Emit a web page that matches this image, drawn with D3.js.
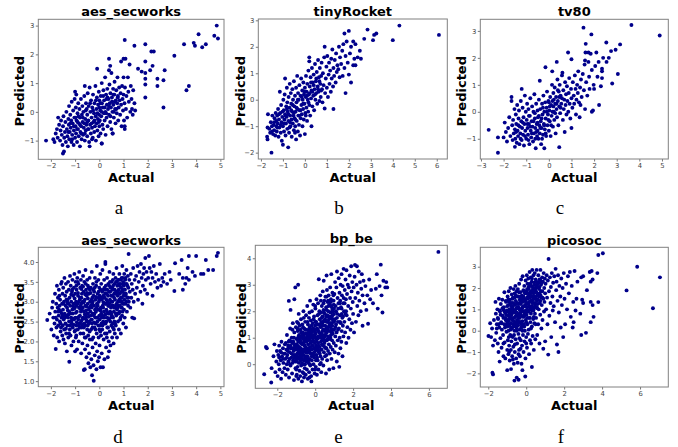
<!DOCTYPE html>
<html><head><meta charset="utf-8">
<script src="https://cdn.jsdelivr.net/npm/d3@7"></script>
<style>html,body{margin:0;padding:0;background:#fff}svg{display:block}</style>
</head><body>
<svg id="c" width="678" height="447"></svg>
<script>
// ---------------- DATA ----------------
const titles = ["aes_secworks","tinyRocket","tv80","aes_secworks","bp_be","picosoc"];
const letters = ["a","b","c","d","e","f"];

const aesTopXTicks = [-2,-1,0,1,2,3,4,5];
const aesTopYTicks = [-1,0,1,2,3];
const tinyXTicks = [-2,-1,0,1,2,3,4,5,6];
const tinyYTicks = [-2,-1,0,1,2,3];
const tv80XTicks = [-3,-2,-1,0,1,2,3,4,5];
const tv80YTicks = [-1,0,1,2,3];
const aesBotXTicks = [-2,-1,0,1,2,3,4,5];
const aesBotYTicks = [1.0,1.5,2.0,2.5,3.0,3.5,4.0];
const bpXTicks = [-2,0,2,4,6];
const bpYTicks = [0,1,2,3,4];
const picoXTicks = [-2,0,2,4,6];
const picoYTicks = [-2,-1,0,1,2,3];

const aesTopPts = [
[-2.2,-1.0],[-1.9,-0.95],[-1.85,-1.05],[-1.8,-0.75],[-1.75,-0.6],[-1.7,-0.2],[-1.72,-0.9],[-1.66,-0.45],[-1.62,-1.0],[-1.6,-0.65],[-1.58,-0.3],[-1.55,-0.8],[-1.52,-1.15],[-1.5,-1.45],[-1.46,-1.38],[-1.5,-0.5],[-1.48,-0.15],[-1.45,-0.9],[-1.42,-0.7],[-1.4,-0.35],[-1.38,-1.05],[-1.36,0.0],
[-1.34,-0.6],[-1.32,-0.85],[-1.3,-1.2],[-1.28,-0.25],[-1.26,-0.45],[-1.25,0.2],[-1.24,-0.95],[-1.22,-0.7],[-1.2,-0.1],[-1.18,-0.55],[-1.16,-0.3],[-1.15,-1.05],[-1.14,0.35],[-1.12,-0.8],[-1.1,-0.4],[-1.08,0.05],[-1.06,-1.15],[-1.05,-0.65],[-1.03,-0.2],[-1.02,0.45],[-1.0,0.7],[-1.0,-0.9],[-0.98,-0.5],[-0.97,0.15],
[-0.96,-0.75],[-0.95,0.6],[-0.94,-0.3],[-0.92,-1.05],[-0.9,-0.05],[-0.88,-0.6],[-0.87,0.3],[-0.85,-0.85],[-0.84,-0.4],[-0.82,0.1],[-0.8,-1.2],[-0.8,-0.2],[-0.78,-0.7],[-0.76,0.45],[-0.75,-0.5],[-0.73,-0.95],[-0.72,-0.1],[-0.7,0.2],[-0.69,-0.35],[-0.67,-0.8],[-0.66,0.0],[-0.64,-0.55],[-0.62,0.55],[-0.6,0.9],[-0.6,-1.0],[-0.58,-0.25],[-0.56,-0.65],[-0.55,0.3],[-0.53,-0.45],[-0.52,0.1],[-0.5,-0.85],[-0.5,-0.1],
[-0.48,0.65],[-0.47,-0.6],[-0.45,-0.3],[-0.44,0.2],[-0.42,-1.05],[-0.4,-1.2],[-0.4,0.85],[-0.38,-0.45],[-0.37,0.0],[-0.35,-0.75],[-0.34,0.4],[-0.32,-0.2],[-0.3,-0.55],[-0.29,0.15],[-0.27,-0.9],[-0.26,0.6],[-0.24,-0.35],[-0.22,-0.05],[-0.21,-0.7],[-0.2,0.3],[-0.18,-0.5],[-0.16,0.9],[-0.15,-0.15],[-0.14,-1.0],[-0.12,0.1],[-0.11,-0.4],[-0.1,0.5],[-0.09,1.5],[-0.08,-0.65],[-0.06,-0.25],[-0.05,0.25],[-0.03,-0.85],[-0.02,0.7],[-0.01,-0.1],[0.0,0.4],[0.0,-0.5],
[0.02,-0.3],[0.04,0.05],[0.05,-0.75],[0.06,0.55],[0.08,-0.15],[0.1,1.0],[0.1,-1.1],[0.11,0.3],[0.13,-0.45],[0.14,0.15],[0.16,-0.6],[0.17,0.75],[0.19,-0.05],[0.2,0.4],[0.22,-0.3],[0.24,1.2],[0.25,0.0],[0.26,-0.8],[0.28,0.6],[0.3,-0.2],[0.31,0.25],[0.33,0.8],[0.34,-0.5],[0.36,0.1],[0.38,0.45],[0.4,1.45],[0.4,-0.1],[0.42,0.95],[0.43,0.3],[0.45,-0.35],[0.46,0.65],[0.48,0.15],[0.5,1.35],[0.5,-0.6],
[0.52,0.5],[0.54,0.0],[0.55,-0.75],[0.57,0.8],[0.58,0.25],[0.6,-0.2],[0.62,0.6],[0.63,1.05],[0.65,0.1],[0.67,-0.4],[0.68,0.4],[0.7,0.75],[0.72,-0.05],[0.74,0.3],[0.75,1.2],[0.77,0.55],[0.78,-0.3],[0.8,0.15],[0.82,0.85],[0.84,0.4],[0.86,-0.1],[0.88,0.65],[0.9,1.75],[0.9,0.25],[0.92,-0.5],[0.94,0.9],[0.96,0.45],[0.98,0.05],[1.0,1.2],[1.0,0.6],
[1.02,-0.3],[1.04,0.3],[1.05,-0.6],[1.05,-0.5],[1.06,0.85],[1.08,1.85],[1.1,0.1],[1.12,0.55],[1.15,-0.2],[1.18,1.2],[1.2,0.7],[1.22,0.35],[1.25,1.65],[1.28,0.0],[1.3,0.9],[1.33,0.45],[1.35,0.1],[1.38,-0.1],[1.4,0.75],[1.45,2.3],[1.45,0.3],[1.48,0.05],
[1.6,1.5],[1.75,1.4],[1.9,1.35],[1.9,1.75],[1.9,2.35],[1.9,1.15],[1.9,0.95],[1.9,0.5],[2.1,1.45],[2.15,2.1],[2.25,2.1],[2.2,1.6],[2.4,1.15],[2.4,0.9],[2.65,1.1],[2.7,1.45],[2.65,0.15],[3.1,1.95],[3.5,2.35],[3.6,0.75],[3.7,0.9],[3.9,2.4],[3.95,2.3],[4.1,2.7],[4.25,2.25],[4.4,2.35],[4.75,2.65],[4.85,3.0],[4.9,2.55],[1.05,2.5],[1.0,1.85],[0.45,1.6],[0.4,1.85],[0.1,-1.1],[0.55,-0.75],
[-1.28,-0.7],[-1.2,-0.4],[-1.12,-0.95],[-1.05,-0.5],[-0.98,-0.2],[-0.92,-0.6],[-0.86,-0.15],[-0.8,-0.45],[-0.74,-0.75],[-0.68,-0.2],[-0.62,-0.4],[-0.56,0.05],[-0.5,-0.35],[-0.44,-0.6],[-0.38,0.3],[-0.32,-0.4],[-0.26,0.05],[-0.2,-0.3],[-0.14,0.4],[-0.08,-0.05],[-0.02,-0.35],[0.04,0.3],[0.1,0.0],[0.16,0.55],[0.22,0.15],[0.28,-0.05],[0.34,0.5],[0.4,0.2],[0.46,-0.15],[0.52,0.35],[0.58,0.6],[0.64,0.35],[0.7,0.1],[0.76,0.5],[-0.9,-0.35],[-0.6,-0.75],[-0.3,-0.95],[0.0,0.15],[0.3,0.45],[0.6,0.0]
];

const tinyRocketPts = [
[-1.72,-1.4],[-1.7,-1.5],[-1.7,-1.05],[-1.68,-0.55],[-1.62,-1.1],[-1.58,-1.25],[-1.55,-0.85],[-1.52,-2.0],[-1.5,-1.2],[-1.48,-0.6],[-1.45,-1.3],[-1.42,-0.95],[-1.4,-1.15],[-1.38,-0.7],[-1.35,-1.35],[-1.33,-0.5],[-1.3,-1.0],[-1.3,-0.8],
[-1.28,-1.2],[-1.26,-0.6],[-1.24,-0.9],[-1.22,-0.35],[-1.2,-1.4],[-1.18,-0.75],[-1.16,-1.05],[-1.14,0.3],[-1.12,-0.5],[-1.1,-1.25],[-1.08,-0.2],[-1.06,-0.85],[-1.05,-1.55],[-1.03,-0.65],[-1.0,-1.7],[-1.0,-1.0],[-0.98,0.0],[-0.96,-0.4],[-0.95,-1.2],[-0.93,-0.75],[-0.92,0.2],[-0.9,0.8],[-0.9,-0.55],[-0.88,-1.35],[-0.86,-0.9],[-0.85,-0.25],[-0.83,-0.65],[-0.82,0.45],[-0.8,-1.1],[-0.8,-0.1],
[-0.78,-0.45],[-0.76,-1.8],[-0.75,-0.8],[-0.74,0.1],[-0.72,-1.25],[-0.7,-0.3],[-0.69,0.6],[-0.67,-0.6],[-0.66,-1.0],[-0.64,0.25],[-0.62,-0.15],[-0.61,-0.75],[-0.6,-1.4],[-0.58,-0.45],[-0.57,0.4],[-0.55,-0.9],[-0.54,0.0],[-0.52,-0.6],[-0.5,-1.15],[-0.5,0.7],[-0.48,-0.25],[-0.47,-0.7],[-0.45,0.15],[-0.44,-1.0],[-0.42,-0.45],[-0.4,-1.5],[-0.4,0.45],[-0.38,-0.1],[-0.37,-0.8],[-0.35,0.9],[-0.34,-0.35],[-0.32,-1.2],[-0.31,0.25],[-0.3,-0.6],
[-0.28,0.0],[-0.27,-0.95],[-0.25,0.55],[-0.24,-0.4],[-0.22,-1.35],[-0.2,0.15],[-0.19,-0.7],[-0.17,0.8],[-0.16,-0.2],[-0.14,-0.55],[-0.12,0.35],[-0.11,-1.0],[-0.1,0.0],[-0.08,-0.35],[-0.07,0.65],[-0.05,-0.75],[-0.04,0.2],[-0.02,-0.15],[0.0,-1.3],[0.0,0.45],[0.02,-0.5],[0.04,0.1],[0.05,0.9],[0.07,-0.3],[0.08,0.3],[0.1,-0.8],[0.11,0.6],[0.13,0.0],[0.15,-0.45],[0.16,1.1],[0.18,0.2],[0.2,1.6],[0.2,1.45],[0.2,-0.2],
[0.22,0.5],[0.24,-0.6],[0.26,0.85],[0.28,0.05],[0.3,-1.0],[0.3,0.35],[0.32,1.2],[0.34,-0.25],[0.36,0.65],[0.38,0.15],[0.4,0.95],[0.42,-0.4],[0.44,0.4],[0.46,1.35],[0.48,0.0],[0.5,0.7],[0.52,0.25],[0.54,1.05],[0.56,-0.15],[0.58,0.5],[0.6,1.5],[0.62,0.3],[0.64,0.85],[0.66,-0.05],[0.68,1.2],[0.7,0.6],[0.72,0.1],[0.74,0.9],[0.76,1.4],[0.78,0.4],
[0.8,-0.1],[0.82,1.0],[0.85,0.55],[0.88,1.6],[0.9,2.0],[0.9,-0.33],[0.92,0.25],[0.95,0.8],[0.98,1.25],[1.0,0.45],[1.02,1.65],[1.05,0.1],[1.08,0.95],[1.1,1.4],[1.12,0.6],[1.15,1.1],[1.18,0.3],[1.2,1.55],[1.22,0.8],[1.25,1.9],[1.28,0.5],[1.3,-0.35],[1.3,1.2],[1.33,0.9],[1.36,1.5],[1.4,0.65],[1.42,1.75],[1.45,1.05],[1.48,1.3],
[1.55,2.0],[1.52,1.15],[1.58,0.85],[1.6,1.6],[1.65,1.35],[1.7,1.85],[1.72,0.9],[1.75,2.1],[1.8,2.5],[1.8,1.2],[1.85,0.25],[1.85,1.65],[1.9,2.2],[1.95,1.4],[2.0,2.6],[2.0,0.95],[2.05,1.75],[2.1,0.65],[2.1,2.0],[2.2,2.2],[2.2,1.3],[2.25,1.55],[2.3,2.1],[2.3,1.3],[2.4,1.6],[2.5,1.85],[2.55,1.55],
[2.7,2.3],[2.85,2.65],[3.1,2.25],[3.15,2.45],[3.25,2.5],[4.0,2.25],[4.3,2.8],[6.1,2.45],
[-1.25,-1.05],[-1.18,-0.55],[-1.1,-0.95],[-1.02,-0.45],[-0.95,-0.9],[-0.88,-0.6],[-0.82,-0.35],[-0.75,-0.55],[-0.68,-0.85],[-0.62,-0.4],[-0.55,-0.2],[-0.5,-0.5],[-0.44,-0.75],[-0.38,-0.3],[-0.32,0.0],[-0.26,-0.6],[-0.2,-0.4],[-0.14,0.1],[-0.08,-0.15],[-0.02,0.3],[0.04,-0.6],[0.1,0.15],[0.16,-0.1],[0.22,0.25],[0.28,0.65],[0.34,0.3],[0.4,0.55],[0.46,0.2],[0.52,0.8],[0.6,0.4],[0.66,0.7],[0.74,0.35],[-0.7,-1.05],[-0.45,-1.25],[-1.4,-0.85],[-1.5,-1.0]
];

const tv80Pts = [
[-2.66,-0.67],[-2.25,-1.52],[-2.25,-0.95],[-2.0,-0.95],[-1.95,-0.4],[-1.9,-0.75],[-1.85,-1.1],[-1.8,-0.6],[-1.75,-0.2],[-1.7,-0.9],[-1.65,0.55],[-1.65,0.4],[-1.62,-0.5],[-1.6,-1.05],[-1.58,-0.3],[-1.55,-0.8],[-1.52,0.1],[-1.5,-1.3],[-1.5,-0.65],
[-1.48,-1.0],[-1.46,-0.1],[-1.44,-0.45],[-1.42,-1.15],[-1.4,0.25],[-1.38,-0.7],[-1.36,-0.9],[-1.34,-0.25],[-1.32,0.05],[-1.3,-1.2],[-1.28,-0.55],[-1.26,-0.8],[-1.24,0.4],[-1.22,-0.35],[-1.2,0.85],[-1.2,-1.05],[-1.18,-0.6],[-1.16,0.15],[-1.14,-0.85],[-1.12,-0.2],[-1.1,-1.25],[-1.08,-0.45],[-1.06,0.6],[-1.04,-0.7],[-1.02,0.0],
[-1.0,-1.0],[-0.98,-0.3],[-0.96,0.3],[-0.94,-0.6],[-0.92,-0.85],[-0.9,0.1],[-0.88,-0.45],[-0.86,-1.2],[-0.84,-0.15],[-0.82,0.5],[-0.8,-0.7],[-0.78,-0.95],[-0.76,-0.35],[-0.74,0.2],[-0.72,-0.55],[-0.7,-1.1],[-0.68,0.0],[-0.66,-0.8],[-0.64,0.65],[-0.62,-0.25],[-0.6,-0.6],[-0.58,-1.35],[-0.56,0.3],[-0.54,-0.45],[-0.52,-0.9],[-0.5,0.05],[-0.5,-0.7],
[-0.48,-0.2],[-0.46,-1.0],[-0.44,0.45],[-0.42,-0.5],[-0.4,1.15],[-0.4,-0.8],[-0.38,0.1],[-0.36,-0.35],[-0.34,-1.2],[-0.32,-0.6],[-0.3,0.3],[-0.28,-0.1],[-0.26,-0.85],[-0.24,0.6],[-0.22,-0.45],[-0.2,-1.35],[-0.2,0.0],[-0.18,-0.65],[-0.16,0.35],[-0.15,1.65],[-0.14,-0.25],[-0.12,-0.9],[-0.1,0.15],[-0.08,0.75],[-0.06,-0.5],[-0.04,-0.1],[-0.02,0.4],[0.0,-0.7],
[0.02,0.05],[0.04,-0.35],[0.06,0.55],[0.08,-0.9],[0.1,0.25],[0.12,-0.15],[0.14,1.0],[0.15,1.5],[0.16,0.4],[0.18,-0.55],[0.2,0.7],[0.22,0.0],[0.24,-0.3],[0.26,0.9],[0.28,0.3],[0.3,-0.8],[0.32,0.55],[0.34,0.1],[0.35,1.85],[0.36,-0.2],[0.38,1.2],[0.4,0.4],[0.42,-0.5],[0.44,0.75],[0.46,-1.31],[0.46,0.2],[0.48,1.0],[0.5,-0.05],[0.52,0.6],[0.55,0.3],[0.58,1.35],[0.6,1.45],
[0.62,-0.3],[0.64,0.8],[0.66,0.1],[0.68,0.45],[0.7,-0.75],[0.72,1.1],[0.74,0.25],[0.76,0.65],[0.78,-0.1],[0.8,0.95],[0.82,0.4],[0.85,2.2],[0.86,0.0],[0.88,0.7],[0.9,1.25],[0.92,0.3],[0.95,-0.25],[0.98,0.85],[1.0,1.95],[1.0,0.5],[1.0,-0.6],[1.04,0.15],[1.06,1.1],[1.1,0.6],[1.12,0.3],[1.15,1.35],[1.18,0.85],[1.2,-0.1],[1.22,0.45],[1.25,1.0],[1.28,0.7],
[1.3,1.5],[1.33,0.35],[1.36,-0.2],[1.38,0.9],[1.4,0.25],[1.42,1.2],[1.45,0.55],[1.5,1.4],[1.53,3.12],[1.55,0.8],[1.58,1.75],[1.6,0.1],[1.6,1.9],[1.62,2.2],[1.63,2.52],[1.65,1.1],[1.7,0.6],[1.75,2.2],[1.75,1.85],[1.78,1.3],[1.8,0.85],[1.85,2.15],[1.88,2.87],[1.9,0.0],[1.9,1.55],[1.95,0.05],[1.98,1.0],
[2.0,0.85],[2.05,1.7],[2.1,2.2],[2.15,1.3],[2.2,1.85],[2.22,0.25],[2.3,0.95],[2.35,1.6],[2.35,1.5],[2.35,1.25],[2.4,2.0],[2.54,2.57],[2.55,1.85],[2.65,2.0],[2.75,2.25],[2.8,1.05],[2.95,2.3],[3.05,1.4],[3.15,2.5],[3.65,3.22],[4.9,2.83],
[-1.45,-0.75],[-1.35,-0.5],[-1.25,-1.0],[-1.15,-0.4],[-1.05,-0.9],[-0.95,-0.45],[-0.88,-0.15],[-0.82,-0.55],[-0.75,-0.8],[-0.68,-0.35],[-0.62,-0.05],[-0.56,-0.75],[-0.5,-0.4],[-0.44,-0.15],[-0.38,-0.6],[-0.32,-0.25],[-0.26,0.15],[-0.2,-0.5],[-0.14,-0.8],[-0.08,0.0],[-0.02,-0.3],[0.04,0.2],[0.1,-0.5],[0.16,0.0],[0.22,0.45],[0.28,-0.05],[0.34,0.3],[0.4,0.8],[0.46,0.55],[0.52,0.15],[0.58,0.5],[-0.9,-1.05],[-0.6,-1.0],[-0.3,-1.0],[0.0,0.35],[0.2,0.2]
];

const aesBotPts = [
[-2.15,2.54],[-2.05,2.7],[-1.98,2.3],[-1.95,2.85],[-1.92,3.0],[-1.9,2.6],[-1.88,2.15],[-1.85,2.45],[-1.83,3.2],[-1.82,2.75],[-1.8,1.81],[-1.78,2.95],[-1.77,2.35],[-1.75,3.4],[-1.75,2.55],
[-1.74,2.1],[-1.72,2.85],[-1.71,3.1],[-1.7,2.4],[-1.68,2.65],[-1.67,3.3],[-1.66,2.0],[-1.64,2.9],[-1.63,2.5],[-1.62,3.05],[-1.6,2.25],[-1.59,2.75],[-1.58,3.45],[-1.56,2.6],[-1.55,3.5],[-1.54,2.95],[-1.53,2.15],[-1.52,3.2],[-1.51,2.4],
[-1.5,2.8],[-1.49,3.35],[-1.48,2.05],[-1.47,2.55],[-1.46,3.0],[-1.45,2.3],[-1.44,3.6],[-1.43,2.7],[-1.42,1.95],[-1.41,3.15],[-1.4,2.45],[-1.39,2.9],[-1.38,3.45],[-1.37,2.2],[-1.36,2.65],[-1.35,3.25],[-1.34,1.75],[-1.33,2.85],[-1.32,2.4],[-1.31,3.05],[-1.3,2.6],[-1.29,3.5],[-1.28,2.1],[-1.27,2.95],[-1.26,3.3],[-1.25,2.5],[-1.24,1.49],
[-1.24,2.75],[-1.23,3.1],[-1.22,2.3],[-1.21,3.65],[-1.2,2.9],[-1.19,2.15],[-1.18,3.4],[-1.17,2.6],[-1.16,3.0],[-1.15,1.9],[-1.14,2.45],[-1.13,3.25],[-1.12,2.8],[-1.11,3.55],[-1.1,2.35],[-1.09,2.7],[-1.08,3.15],[-1.07,2.0],[-1.06,2.95],[-1.05,3.35],[-1.04,2.55],[-1.03,3.7],[-1.02,2.25],[-1.01,2.85],[-1.0,3.2],[-1.0,1.75],
[-0.99,2.6],[-0.98,3.5],[-0.97,2.1],[-0.96,3.0],[-0.95,2.4],[-0.94,3.3],[-0.93,2.75],[-0.92,1.8],[-0.91,3.6],[-0.9,2.95],[-0.89,2.3],[-0.88,3.15],[-0.87,2.55],[-0.86,3.45],[-0.85,2.0],[-0.84,2.85],[-0.83,3.75],[-0.82,2.45],[-0.81,3.05],[-0.8,2.65],[-0.79,3.35],[-0.78,2.2],[-0.77,2.9],[-0.76,3.55],[-0.75,2.5],[-0.75,1.7],
[-0.74,3.1],[-0.73,2.35],[-0.72,2.8],[-0.71,3.4],[-0.7,1.95],[-0.69,3.0],[-0.68,2.6],[-0.67,3.65],[-0.66,2.2],[-0.65,3.25],[-0.64,1.28],[-0.63,2.75],[-0.62,3.5],[-0.61,2.45],[-0.6,1.3],[-0.6,3.05],[-0.59,1.8],[-0.58,2.9],[-0.57,3.8],[-0.56,2.1],[-0.55,3.3],[-0.54,2.55],[-0.53,1.6],[-0.52,3.15],[-0.51,2.7],[-0.5,3.55],[-0.5,2.3],
[-0.49,1.9],[-0.48,2.95],[-0.47,3.4],[-0.46,2.15],[-0.45,1.45],[-0.44,2.8],[-0.43,3.2],[-0.42,1.7],[-0.41,2.5],[-0.4,3.6],[-0.39,2.05],[-0.38,3.0],[-0.37,1.35],[-0.36,2.65],[-0.35,3.35],[-0.34,2.3],[-0.33,1.55],[-0.32,2.85],[-0.31,3.75],[-0.3,1.15],[-0.3,2.45],[-0.29,3.1],[-0.28,1.85],[-0.27,2.7],[-0.26,3.45],[-0.25,2.1],
[-0.24,1.4],[-0.23,1.01],[-0.22,2.9],[-0.21,3.25],[-0.2,2.35],[-0.19,1.65],[-0.18,3.6],[-0.17,2.6],[-0.16,3.05],[-0.15,1.95],[-0.14,2.75],[-0.13,3.4],[-0.12,1.3],[-0.11,2.2],[-0.1,3.9],[-0.1,2.95],[-0.09,1.75],[-0.08,2.5],[-0.07,3.2],[-0.06,1.5],[-0.05,2.8],[-0.04,3.55],[-0.03,2.1],[-0.02,3.0],[-0.01,1.6],[0.0,2.65],[0.0,3.35],
[0.01,1.9],[0.02,3.15],[0.03,2.4],[0.04,3.7],[0.05,1.35],[0.06,2.85],[0.07,2.15],[0.08,3.45],[0.09,2.6],[0.1,1.7],[0.11,3.05],[0.12,2.3],[0.13,3.8],[0.14,2.9],[0.15,1.35],[0.16,2.5],[0.17,3.3],[0.18,2.05],[0.19,2.75],[0.2,3.55],[0.21,1.55],[0.22,3.1],[0.23,2.2],[0.24,2.95],[0.25,4.0],[0.25,3.95],
[0.26,2.45],[0.27,3.4],[0.28,1.85],[0.29,2.8],[0.3,3.2],[0.31,2.1],[0.32,3.6],[0.33,2.6],[0.34,3.0],[0.35,1.6],[0.36,2.35],[0.37,3.45],[0.38,2.9],[0.39,2.0],[0.4,1.75],[0.4,3.25],[0.41,2.7],[0.42,3.75],[0.43,2.25],[0.44,3.05],[0.45,2.5],[0.46,1.9],[0.47,3.35],[0.48,2.85],[0.49,3.15],[0.5,2.4],
[0.51,3.5],[0.52,2.65],[0.53,2.1],[0.54,3.0],[0.55,3.3],[0.56,2.35],[0.57,2.9],[0.58,3.7],[0.59,1.95],[0.6,2.75],[0.61,3.2],[0.62,2.5],[0.63,3.45],[0.64,2.2],[0.65,3.05],[0.66,2.85],[0.67,3.6],[0.68,2.4],[0.69,3.25],[0.7,2.65],[0.71,3.85],[0.72,2.95],[0.73,2.1],[0.74,3.4],[0.75,2.7],
[0.76,3.15],[0.77,2.5],[0.78,3.55],[0.79,2.9],[0.8,3.3],[0.81,2.3],[0.82,3.05],[0.83,3.7],[0.84,2.75],[0.85,3.2],[0.86,2.55],[0.87,3.45],[0.88,3.0],[0.89,2.2],[0.9,3.35],[0.91,2.85],[0.92,3.6],[0.93,3.1],[0.94,2.65],[0.95,3.9],[0.96,3.25],[0.97,2.95],[0.98,3.5],[0.99,2.45],[1.0,3.15],
[1.01,3.4],[1.02,2.8],[1.03,3.7],[1.04,3.05],[1.05,2.6],[1.06,3.3],[1.07,3.55],[1.08,2.95],[1.1,2.35],[1.1,3.2],[1.12,3.8],[1.13,3.45],[1.14,2.75],[1.16,3.1],[1.18,3.65],[1.19,2.9],[1.2,3.35],[1.21,4.2],[1.22,3.0],[1.24,3.55],
[1.26,3.25],[1.28,2.85],[1.3,3.7],[1.32,3.1],[1.34,3.45],[1.36,2.6],[1.38,3.3],[1.4,3.85],[1.42,3.0],[1.44,2.58],[1.46,3.55],[1.48,3.2],
[1.52,3.65],[1.55,3.35],[1.58,3.9],[1.6,3.05],[1.63,3.5],[1.66,3.75],[1.7,3.25],[1.72,3.95],[1.75,3.6],[1.78,2.95],[1.8,3.4],[1.82,3.7],[1.85,3.85],[1.88,3.3],[1.9,4.1],[1.92,3.55],[1.95,3.75],[1.98,3.2],
[2.02,3.6],[2.05,4.15],[2.08,3.85],[2.12,3.45],[2.15,3.75],[2.2,3.15],[2.2,3.6],[2.25,3.9],[2.3,3.5],[2.35,3.7],[2.4,3.35],[2.45,3.55],[2.5,3.95],[2.55,3.4],[2.6,3.6],[2.65,3.5],[2.7,3.7],[2.8,3.45],[2.9,3.75],[2.95,3.55],
[3.13,3.97],[3.1,3.27],[3.45,3.3],[3.4,4.05],[3.45,3.6],[3.6,3.6],[3.65,3.85],[3.7,3.55],[3.7,4.15],[3.85,3.75],[3.95,3.65],[4.0,4.15],[4.2,3.7],[4.3,3.7],[4.4,4.05],[4.5,3.8],[4.7,3.8],[4.85,4.15],[4.9,4.23],[3.3,3.7],[3.55,3.45],
[-1.15,2.52],[-1.08,2.88],[-1.02,3.08],[-0.97,2.72],[-0.93,2.48],[-0.88,3.22],[-0.84,2.62],[-0.79,2.82],[-0.74,3.32],[-0.7,2.42],[-0.66,2.98],[-0.62,2.58],[-0.58,3.18],[-0.55,2.78],[-0.51,2.5],[-0.47,3.08],[-0.44,2.62],[-0.4,2.85],[-0.36,3.22],[-0.33,2.55],[-0.29,2.95],[-0.25,3.3],[-0.22,2.48],[-0.18,2.8],[-0.14,3.12],[-0.11,2.6],[-0.07,2.92],[-0.03,3.25],[0.01,2.55],[0.05,2.78],[0.09,3.1],[0.13,2.4],[0.17,2.98],[0.21,3.35],[0.25,2.68],[0.29,3.05],[0.33,2.35],[0.37,2.9],[0.41,3.4],[0.45,2.75],[0.49,3.0],[0.53,3.35],[0.57,2.6],[0.61,3.1],[0.65,2.45],[0.69,2.92],[0.73,3.2],[0.77,3.0],[0.81,2.7],[0.85,3.4],[0.89,3.1],[0.93,2.85],[0.97,3.3],[-1.3,2.78],[-1.36,3.05],[-1.42,2.6],[-1.48,2.95],[-1.55,2.7],[-1.6,2.45],[-1.66,2.8],
[-1.18,2.7],[-1.12,3.3],[-1.06,2.42],[-1.0,2.95],[-0.95,3.4],[-0.9,2.6],[-0.85,3.0],[-0.8,2.35],[-0.76,2.75],[-0.72,3.2],[-0.68,2.85],[-0.64,2.35],[-0.6,2.68],[-0.56,3.45],[-0.52,2.88],[-0.48,2.4],[-0.44,3.35],[-0.4,2.25],[-0.36,2.75],[-0.32,3.05],[-0.28,2.35],[-0.24,3.15],[-0.2,2.7],[-0.16,2.3],[-0.12,3.5],[-0.08,2.9],[-0.04,2.4],[0.0,3.05],[0.04,2.25],[0.08,2.7],[0.12,3.25],[0.16,2.85],[0.2,2.45],[0.24,3.2],[0.28,2.95],[0.32,2.75],[0.36,3.15],[0.4,2.55],[0.44,3.5],[0.48,2.6],[0.52,2.9],[0.56,3.55],[0.6,2.3],[0.64,3.3],[0.68,2.7],[0.72,3.5],[0.76,2.85],[0.8,3.55],[0.84,3.05],[0.88,2.6],[0.92,3.25],[0.96,2.75],[1.0,3.45],[1.04,3.2],[1.08,3.6],[1.12,3.0],[1.16,3.4],[1.2,3.1],
[-1.45,2.62],[-1.38,2.32],[-1.32,2.98],[-1.27,2.68],[-1.21,2.4],[-1.16,3.18],[-1.1,2.58],[-1.04,2.82],[-0.99,2.28],[-0.94,2.9],[-0.89,3.5],[-0.84,2.4],[-0.8,3.1],[-0.75,2.95],[-0.71,2.55],[-0.67,3.38],[-0.63,3.0],[-0.59,2.4],[-0.55,2.62],[-0.51,3.22],[-0.47,2.7],[-0.43,2.45],[-0.39,3.3],[-0.35,2.9],[-0.31,2.55],[-0.27,3.0],[-0.23,2.65],[-0.19,3.35],[-0.15,2.45],[-0.11,2.85],[-0.07,2.6],[-0.03,3.1],[0.01,2.8],[0.05,3.3],[0.09,2.45],[0.13,2.65],[0.17,3.15],[0.21,2.6],[0.25,3.3],[0.29,2.5],[0.33,3.3],[0.37,2.7],[0.41,2.95],[0.45,3.25],[0.49,2.7],[0.53,3.15],[0.57,3.4],[0.61,2.85],[0.65,3.2],[0.69,3.5],[0.73,2.8],[0.77,3.25],[0.81,3.45],[0.85,2.9],[0.89,3.55],[0.93,3.0],[0.97,3.6],[1.01,2.95],[1.05,3.45],[1.09,3.15],
[-1.7,2.75],[-1.65,3.15],[-1.58,2.35],[-1.52,2.65],[-1.8,2.6],[-1.25,2.2],[-0.95,2.15],[-0.6,2.1],[-0.3,2.05],[0.0,2.3],[0.3,2.2],[0.55,2.45]
];

const bpBePts = [
[6.5,4.24],
[-2.69,-0.38],[-2.6,0.65],[-2.55,0.6],[-2.32,-0.69],[-2.3,-0.15],[-2.2,0.3],[-2.15,0.75],[-2.1,-0.3],[-2.05,0.1],[-2.02,0.5],
[-1.98,-0.45],[-1.95,0.35],[-1.92,0.0],[-1.9,0.7],[-1.88,-0.2],[-1.85,0.5],[-1.82,0.15],[-1.8,-0.55],[-1.78,0.85],[-1.75,0.3],[-1.72,-0.3],[-1.7,0.6],[-1.68,0.05],[-1.65,0.4],[-1.62,-0.15],[-1.6,0.75],[-1.58,0.2],[-1.55,-0.4],[-1.52,0.55],[-1.5,0.0],
[-1.49,1.1],[-1.47,0.35],[-1.45,-0.2],[-1.43,0.7],[-1.41,0.1],[-1.39,2.39],[-1.38,-0.5],[-1.36,0.9],[-1.34,0.45],[-1.32,1.35],[-1.3,2.05],[-1.3,-0.05],[-1.28,0.6],[-1.26,0.25],[-1.24,1.0],[-1.22,-0.35],[-1.2,0.8],[-1.18,1.55],[-1.16,0.15],[-1.14,0.5],[-1.12,-0.6],[-1.1,2.45],[-1.1,1.2],[-1.08,0.35],[-1.06,0.75],[-1.05,2.9],[-1.04,-0.15],[-1.02,1.4],[-1.0,0.55],
[-0.99,0.1],[-0.98,0.95],[-0.97,-0.4],[-0.96,1.6],[-0.95,0.4],[-0.94,0.7],[-0.93,-0.1],[-0.92,1.25],[-0.91,0.25],[-0.9,3.0],[-0.9,0.85],[-0.89,-0.55],[-0.88,0.5],[-0.87,1.9],[-0.86,0.05],[-0.85,1.1],[-0.84,0.65],[-0.83,-0.25],[-0.82,1.45],[-0.81,0.3],[-0.8,0.9],[-0.79,-0.45],[-0.78,0.15],[-0.77,1.3],[-0.76,0.6],[-0.75,1.7],[-0.74,-0.05],[-0.73,0.4],[-0.72,1.05],[-0.71,0.8],[-0.7,-0.65],[-0.69,0.2],[-0.68,1.5],[-0.67,0.55],[-0.66,-0.3],[-0.65,1.2],[-0.64,0.95],[-0.63,0.0],[-0.62,2.0],[-0.61,0.35],[-0.6,0.75],[-0.59,-0.5],[-0.58,1.35],[-0.57,0.5],[-0.56,1.0],[-0.55,-0.15],[-0.54,0.25],[-0.53,1.6],[-0.52,0.65],[-0.51,1.15],[-0.5,-0.4],
[-0.49,0.45],[-0.48,1.85],[-0.47,0.1],[-0.46,0.85],[-0.45,1.3],[-0.44,-0.2],[-0.43,0.6],[-0.42,2.2],[-0.41,1.05],[-0.4,0.3],[-0.39,-0.55],[-0.38,1.5],[-0.37,0.75],[-0.36,0.05],[-0.35,1.2],[-0.34,0.45],[-0.33,1.75],[-0.32,-0.3],[-0.31,0.95],[-0.3,0.2],[-0.29,1.4],[-0.28,0.65],[-0.27,2.4],[-0.26,-0.05],[-0.25,1.1],[-0.24,0.4],[-0.23,1.65],[-0.22,0.85],[-0.21,-0.45],[-0.2,0.55],[-0.2,-0.65],[-0.19,1.3],[-0.18,0.15],[-0.17,2.0],[-0.16,0.7],[-0.15,1.0],[-0.14,-0.2],[-0.13,1.55],[-0.12,0.35],[-0.11,0.9],[-0.1,2.25],[-0.09,0.0],[-0.08,1.25],[-0.07,0.6],[-0.06,1.8],[-0.05,0.25],[-0.04,1.05],[-0.03,-0.35],[-0.02,0.8],[-0.01,1.45],[0.0,0.5],
[0.01,2.1],[0.02,1.15],[0.03,-0.1],[0.04,0.7],[0.05,1.6],[0.06,0.35],[0.07,2.45],[0.08,0.95],[0.09,-0.4],[0.1,1.35],[0.11,0.55],[0.12,1.85],[0.13,0.15],[0.14,1.05],[0.15,2.3],[0.16,0.8],[0.17,-0.2],[0.18,1.5],[0.19,3.21],[0.2,0.45],[0.21,1.2],[0.22,2.0],[0.23,0.65],[0.24,1.7],[0.25,0.0],[0.26,1.0],[0.27,2.6],[0.28,0.3],[0.29,1.4],[0.3,0.85],[0.31,1.95],[0.32,-0.3],[0.33,1.15],[0.34,0.55],[0.35,2.2],[0.36,1.55],[0.37,0.2],[0.38,0.95],[0.39,1.8],[0.4,2.75],[0.41,0.7],[0.42,1.3],[0.43,-0.05],[0.44,2.05],[0.45,3.15],[0.45,1.0],[0.46,0.45],[0.47,1.65],[0.48,2.4],[0.49,0.8],[0.5,1.25],
[0.51,1.9],[0.52,0.3],[0.53,1.45],[0.54,2.55],[0.55,0.9],[0.56,1.1],[0.57,-0.35],[0.58,2.15],[0.59,0.6],[0.6,3.35],[0.6,1.6],[0.61,1.2],[0.62,2.8],[0.63,0.15],[0.64,1.85],[0.65,0.95],[0.66,2.35],[0.67,1.4],[0.68,0.5],[0.69,2.0],[0.7,1.05],[0.71,2.6],[0.72,0.75],[0.73,1.7],[0.74,-0.2],[0.75,1.25],[0.76,2.25],[0.77,0.4],[0.78,1.55],[0.79,2.9],[0.8,1.0],[0.81,1.95],[0.82,0.65],[0.83,2.45],[0.84,1.3],[0.85,3.4],[0.86,0.2],[0.87,1.75],[0.88,2.15],[0.89,0.9],[0.9,1.45],[0.91,2.7],[0.92,0.55],[0.93,1.15],[0.94,2.0],[0.95,1.6],[0.96,-0.15],[0.97,2.4],[0.98,0.8],[0.99,1.9],[1.0,1.3],
[1.01,2.65],[1.03,0.45],[1.04,1.7],[1.05,3.1],[1.06,1.05],[1.08,2.2],[1.09,0.7],[1.1,1.5],[1.12,2.9],[1.13,1.2],[1.14,0.1],[1.15,3.5],[1.16,1.9],[1.18,2.5],[1.19,0.9],[1.2,1.6],[1.22,2.1],[1.23,0.4],[1.24,3.25],[1.25,1.35],[1.27,-0.1],[1.28,2.7],[1.29,1.0],[1.3,1.85],[1.32,2.4],[1.33,0.6],[1.34,3.0],[1.35,1.55],[1.36,2.15],[1.38,0.85],[1.39,3.4],[1.4,1.25],[1.41,2.6],[1.43,1.75],[1.44,0.3],[1.45,2.95],[1.46,1.45],[1.48,2.3],[1.49,1.05],[1.5,3.6],
[1.52,2.0],[1.54,1.6],[1.56,2.8],[1.58,1.2],[1.6,3.2],[1.62,2.45],[1.64,0.8],[1.65,3.55],[1.66,1.85],[1.68,2.65],[1.7,1.4],[1.72,3.0],[1.74,2.2],[1.76,1.0],[1.78,2.9],[1.8,1.7],[1.82,3.35],[1.84,2.5],[1.86,1.3],[1.88,2.1],[1.9,3.7],[1.92,2.75],[1.94,1.55],[1.96,3.1],[1.98,2.35],
[2.0,1.9],[2.03,2.9],[2.05,1.2],[2.08,3.3],[2.1,3.75],[2.12,2.5],[2.15,1.6],[2.18,3.0],[2.2,3.7],[2.22,2.2],[2.25,2.7],[2.28,1.85],[2.3,3.5],[2.33,2.4],[2.36,3.1],[2.4,2.0],[2.43,2.85],[2.46,3.4],[2.5,1.45],[2.5,2.6],
[2.55,3.15],[2.6,2.3],[2.65,2.95],[2.7,2.05],[2.75,2.6],[2.79,1.53],[2.85,3.2],[2.9,2.45],[2.95,2.8],[3.05,2.3],[3.2,2.85],[3.25,3.4],[3.3,2.1],[3.4,2.95],[3.46,3.76],[3.5,2.6],[3.55,1.95],[3.6,3.15],[3.7,2.9],[3.75,3.1],[3.8,2.9],
[-1.25,0.4],[-1.2,0.05],[-1.15,0.85],[-1.1,0.25],[-1.05,0.6],[-1.0,-0.2],[-0.96,0.3],[-0.92,0.6],[-0.88,1.05],[-0.84,0.2],[-0.8,0.5],[-0.76,1.0],[-0.72,0.3],[-0.68,0.75],[-0.64,1.4],[-0.6,0.15],[-0.56,0.7],[-0.52,1.3],[-0.48,0.3],[-0.44,0.95],[-0.4,1.6],[-0.36,0.55],[-0.32,1.1],[-0.28,0.0],[-0.24,0.8],[-0.2,1.45],[-0.16,0.4],[-0.12,1.1],[-0.08,1.7],[-0.04,0.6],[0.0,1.2],[0.04,0.15],[0.08,1.5],[0.12,0.6],[0.16,1.25],[0.2,1.9],[0.24,0.4],[0.28,1.05],[0.32,1.6],[0.36,0.75],[0.4,1.45],[0.44,2.3],[0.48,1.1],[0.52,1.7],[0.56,0.6],[0.6,2.05],[0.64,1.3],[0.68,2.4],[0.72,1.0],[0.76,1.8],[0.8,1.4],[0.84,2.2],[0.88,1.2],[0.92,1.85],[0.96,2.6],[1.0,1.6],
[-1.45,0.5],[-1.4,0.85],[-1.35,0.2],[-1.3,0.7],[-1.6,0.4],[-1.7,0.2],[-1.8,0.45],[-1.9,0.25],
[-1.18,0.6],[-1.12,1.0],[-1.06,0.1],[-0.98,0.75],[-0.94,1.35],[-0.86,0.4],[-0.82,0.95],[-0.78,0.55],[-0.74,1.2],[-0.7,0.05],[-0.66,0.45],[-0.62,1.1],[-0.58,0.85],[-0.54,0.0],[-0.5,0.55],[-0.46,1.15],[-0.42,0.45],[-0.38,0.9],[-0.34,0.15],[-0.3,1.3],[-0.26,0.6],[-0.22,1.0],[-0.18,0.3],[-0.14,0.7],[-0.1,1.35],[-0.06,0.35],[-0.02,1.0],[0.02,1.6],[0.06,0.85],[0.1,0.25],[0.14,1.3],[0.18,0.7],[0.22,1.5],[0.26,1.15],[0.3,0.55],[0.34,1.75],[0.38,1.25],[0.42,0.9],[0.46,1.95],[0.5,0.65],[0.54,1.3],[0.58,1.8],[0.62,0.9],[0.66,1.6],[0.7,2.2],[0.74,1.45],[0.78,0.95],[0.82,2.35],[0.86,1.55],[0.9,2.05],[0.94,1.3],[0.98,2.25],[1.1,2.0],[1.2,1.3],[1.3,2.3],[1.4,1.9],[1.5,2.5],[1.6,1.9],
[-1.5,0.25],[-1.42,0.6],[-1.33,0.0],[-1.25,0.85],[-1.17,0.35],[-1.08,0.7],[-1.0,0.2],[-0.93,0.95],[-0.85,0.45],[-0.77,0.8],[-0.69,1.15],[-0.61,0.55],[-0.53,0.9],[-0.45,0.2],[-0.37,1.05],[-0.29,0.45],[-0.21,1.2],[-0.13,0.85],[-0.05,0.45],[0.03,1.3],[0.11,0.95],[0.19,0.5],[0.27,1.45],[0.35,1.05],[0.43,1.6],[0.51,1.05],[0.59,1.35],[0.67,1.8],[0.75,1.55],[0.83,1.1],[0.91,1.7],[0.99,2.1],[1.07,1.4],[1.15,1.75],[1.23,2.3],[1.31,1.6],[1.39,2.1],[1.47,1.8],[1.55,2.3],[1.63,2.0],
[-1.55,0.8],[-1.2,1.3],[-0.9,1.55],[-0.6,1.75],[-0.3,1.95],[0.0,2.2],[0.3,2.4],[0.6,2.55],[-1.0,-0.45],[-0.6,-0.35],[-0.3,-0.5],[0.0,-0.2],[0.3,0.05],[0.6,0.35]
];

const picosocPts = [
[-1.99,-0.25],[-1.9,0.35],[-1.78,-1.97],[-1.75,-2.05],[-1.85,-0.3],[-1.8,0.1],[-1.75,-0.7],[-1.7,0.5],[-1.65,-0.45],[-1.62,1.35],[-1.6,0.8],[-1.58,-0.1],[-1.55,0.3],[-1.52,1.0],[-1.5,-0.6],
[-1.48,0.55],[-1.46,-1.0],[-1.44,1.5],[-1.42,0.15],[-1.4,-1.45],[-1.38,0.9],[-1.36,-0.35],[-1.34,1.25],[-1.32,0.4],[-1.3,-0.8],[-1.28,0.05],[-1.26,1.45],[-1.24,0.7],[-1.22,-0.2],[-1.2,-1.2],[-1.18,1.1],[-1.16,0.3],[-1.15,1.8],[-1.14,-0.55],[-1.12,0.85],[-1.1,-1.3],[-1.08,0.5],[-1.06,1.35],[-1.04,-0.05],[-1.02,0.95],[-1.0,-0.9],[-1.0,-1.85],
[-0.99,0.2],[-0.98,1.6],[-0.97,-0.45],[-0.96,0.7],[-0.95,1.2],[-0.94,-1.1],[-0.93,0.0],[-0.92,1.85],[-0.91,0.45],[-0.9,-0.7],[-0.89,1.0],[-0.88,0.25],[-0.87,-1.4],[-0.86,1.45],[-0.85,0.6],[-0.84,-0.2],[-0.83,2.0],[-0.82,0.9],[-0.81,-0.9],[-0.8,-1.8],[-0.8,0.35],[-0.79,1.3],[-0.78,-0.5],[-0.77,0.75],[-0.76,1.7],[-0.75,0.1],[-0.74,-1.2],[-0.73,1.1],[-0.72,0.5],[-0.71,-0.3],[-0.7,1.55],[-0.69,0.85],[-0.68,-0.75],[-0.67,0.3],[-0.66,1.95],[-0.65,-1.55],[-0.64,0.6],[-0.63,1.25],[-0.62,-2.34],[-0.62,0.0],[-0.61,1.75],[-0.6,-1.0],[-0.59,0.95],[-0.58,0.4],[-0.57,2.1],[-0.56,-0.4],[-0.55,1.4],[-0.54,0.7],[-0.53,-1.3],[-0.52,1.05],[-0.51,0.15],[-0.5,-2.2],[-0.5,1.85],
[-0.49,0.5],[-0.48,-0.6],[-0.47,1.3],[-0.46,0.8],[-0.45,-1.5],[-0.44,1.95],[-0.43,0.25],[-0.42,1.1],[-0.41,-0.15],[-0.4,-2.3],[-0.4,1.6],[-0.39,0.6],[-0.38,-0.9],[-0.37,2.2],[-0.36,1.0],[-0.35,0.05],[-0.34,1.45],[-0.33,-1.2],[-0.32,0.4],[-0.31,1.8],[-0.3,0.85],[-0.29,-0.45],[-0.28,1.25],[-0.27,2.4],[-0.26,0.15],[-0.25,-1.55],[-0.24,0.7],[-0.23,1.65],[-0.22,-0.7],[-0.21,1.05],[-0.2,-1.85],[-0.2,0.45],[-0.19,2.55],[-0.18,1.35],[-0.17,-0.2],[-0.16,0.9],[-0.15,1.9],[-0.14,-1.0],[-0.13,0.3],[-0.12,1.5],[-0.11,0.65],[-0.1,2.1],[-0.09,-0.5],[-0.08,1.15],[-0.07,0.0],[-0.06,1.75],[-0.05,-2.15],[-0.05,0.85],[-0.04,-1.3],[-0.03,2.35],[-0.02,0.5],[-0.01,1.3],[0.0,-0.3],
[0.01,1.85],[0.02,0.75],[0.03,2.6],[0.04,-0.8],[0.05,1.1],[0.06,0.3],[0.07,2.2],[0.08,1.5],[0.09,-0.15],[0.1,0.9],[0.11,2.45],[0.12,1.25],[0.13,0.05],[0.14,1.95],[0.15,-1.1],[0.16,0.6],[0.17,1.7],[0.18,2.75],[0.19,1.0],[0.2,-0.45],[0.21,2.1],[0.22,0.4],[0.23,1.4],[0.24,2.5],[0.25,0.8],[0.26,-0.6],[0.27,1.85],[0.28,1.15],[0.29,2.3],[0.3,-1.7],[0.3,0.2],[0.31,1.6],[0.32,2.85],[0.33,0.95],[0.34,-0.25],[0.35,2.0],[0.36,1.3],[0.37,0.55],[0.38,2.6],[0.39,1.75],[0.4,-0.9],[0.41,1.05],[0.42,2.25],[0.43,0.35],[0.44,1.5],[0.45,2.7],[0.46,0.8],[0.47,1.95],[0.48,-0.4],[0.49,1.25],[0.5,2.4],
[0.52,0.6],[0.54,1.8],[0.55,2.85],[0.56,1.1],[0.58,-0.2],[0.6,2.2],[0.62,1.45],[0.63,0.3],[0.64,2.6],[0.66,1.0],[0.68,1.95],[0.7,-0.6],[0.71,2.4],[0.72,1.3],[0.74,0.75],[0.75,2.85],[0.76,1.65],[0.78,2.15],[0.8,0.1],[0.82,1.2],[0.84,2.5],[0.85,1.85],[0.86,0.5],[0.88,2.3],[0.9,-0.85],[0.9,1.5],[0.92,2.7],[0.94,0.9],[0.95,2.0],[0.96,1.35],[0.98,2.45],[1.0,-0.5],[1.0,1.75],
[1.02,2.2],[1.05,1.0],[1.08,2.6],[1.1,1.55],[1.12,0.3],[1.14,2.35],[1.16,-1.12],[1.18,3.36],[1.2,1.85],[1.22,0.7],[1.25,2.5],[1.28,1.3],[1.3,2.05],[1.32,-0.3],[1.35,2.7],[1.38,1.6],[1.4,0.95],[1.42,2.25],[1.45,1.15],[1.48,2.55],
[1.52,0.4],[1.55,2.9],[1.58,1.9],[1.6,2.3],[1.62,-0.65],[1.65,1.4],[1.68,2.6],[1.7,-1.0],[1.72,0.85],[1.75,2.1],[1.8,1.6],[1.82,0.15],[1.85,2.45],[1.88,1.2],[1.92,2.0],[1.95,-0.3],[1.98,2.7],[2.02,1.5],[2.05,0.3],[2.1,2.2],[2.15,1.0],[2.2,2.55],[2.25,1.75],[2.3,2.75],[2.35,0.65],[2.4,2.1],[2.45,0.15],[2.48,1.35],
[2.5,0.4],[2.55,2.8],[2.6,0.95],[2.65,1.5],[2.7,2.3],[2.85,0.8],[2.9,-0.2],[2.9,2.5],[2.95,1.45],[3.0,1.3],[3.0,2.55],[3.15,-0.1],[3.2,1.9],[3.35,2.75],[3.4,2.3],[3.4,1.35],[3.4,0.4],[3.45,2.8],[3.5,2.4],[3.5,1.2],[3.55,0.65],[3.75,2.7],[3.8,1.34],[3.8,3.55],[4.04,3.63],[5.29,1.89],[5.85,3.0],[6.68,1.05],[7.05,2.5],
[-1.1,0.6],[-1.05,0.25],[-1.0,1.15],[-0.96,0.5],[-0.92,-0.3],[-0.88,0.8],[-0.84,1.25],[-0.8,0.15],[-0.76,0.95],[-0.72,1.5],[-0.68,0.45],[-0.64,-0.2],[-0.6,1.2],[-0.56,0.85],[-0.52,0.35],[-0.48,1.6],[-0.44,0.7],[-0.4,1.05],[-0.36,-0.35],[-0.32,0.95],[-0.28,0.4],[-0.24,1.45],[-0.2,1.1],[-0.16,0.2],[-0.12,1.85],[-0.08,0.75],[-0.04,1.2],[0.0,0.4],[0.04,1.55],[0.08,0.95],[0.12,2.05],[0.16,1.35],[0.2,0.6],[0.24,1.75],[0.28,2.1],[0.32,1.3],[0.36,1.9],[0.4,0.65],[0.44,2.15],[0.48,1.6],[0.52,2.0],[0.56,1.4],[0.6,1.7],
[-1.3,0.35],[-1.25,1.05],[-1.2,0.6],[-1.35,0.75],[-1.45,0.3],
[-1.08,1.4],[-1.02,0.45],[-0.98,0.9],[-0.94,0.3],[-0.9,1.35],[-0.86,0.7],[-0.82,0.05],[-0.78,1.15],[-0.74,0.55],[-0.7,1.0],[-0.66,0.2],[-0.62,1.55],[-0.58,0.65],[-0.54,1.25],[-0.5,0.0],[-0.46,1.1],[-0.42,0.45],[-0.38,1.8],[-0.34,0.75],[-0.3,1.35],[-0.26,0.3],[-0.22,1.5],[-0.18,0.65],[-0.14,1.15],[-0.1,0.2],[-0.06,1.45],[-0.02,0.95],[0.02,1.75],[0.06,0.6],[0.1,1.3],[0.14,0.9],[0.18,1.55],[0.22,2.2],[0.26,1.1],[0.3,1.85],[0.34,1.45],[0.38,0.95],[0.42,1.8],[0.46,1.3],[0.5,1.85],[0.54,2.3],[0.58,1.05],[0.62,2.05],[0.66,1.6],[0.7,2.05],[0.74,1.4],[0.78,1.85],[0.82,2.25],[0.86,1.55],
[-1.18,0.95],[-1.12,0.15],[-1.06,0.75],[-1.0,0.35],[-0.95,1.45],[-0.9,0.55],[-0.85,1.0],[-0.8,-0.25],[-0.75,0.6],[-0.7,1.3],[-0.65,0.95],[-0.6,0.25],[-0.55,1.65],[-0.5,0.85],[-0.45,0.35],[-0.4,1.25],[-0.35,0.6],[-0.3,1.55],[-0.25,1.0],[-0.2,0.0],[-0.15,1.6],[-0.1,0.85],[-0.05,1.4],[0.0,0.95],[0.05,1.95],[0.1,1.6],[0.15,1.15],[0.2,1.8],[0.25,1.4],[0.3,2.45],[0.35,1.6],[0.4,2.0],[0.45,1.15],[0.5,1.5],[0.55,2.1],[0.6,1.25],[0.65,2.25],[0.7,1.75],[0.75,2.35],[0.8,1.55],
[-1.4,0.95],[-1.5,0.6],[-1.55,0.1],[-1.2,-0.6],[-0.9,-1.0],[-0.6,-0.65],[-0.3,-0.85],[0.0,-0.6],[0.25,0.1],[0.5,0.3],[-0.7,-1.35],[-0.4,-1.1]
];

// ---------------- LAYOUT ----------------
const layout = [
  {box:[38.3,19.3,224,159.3], xd:[-2.52,5.15], yd:[-1.65,3.22], titleY:16, actualY:181.5, predX:24, predY:91.3, letX:119, letY:213.5},
  {box:[258.3,19,447.3,159], xd:[-2.12,6.48], yd:[-2.24,3.05], titleY:16, actualY:181.5, predX:245, predY:91.3, letX:339, letY:213.5},
  {box:[480.3,19.3,668.3,159], xd:[-3.03,5.28], yd:[-1.75,3.43], titleY:16, actualY:181.5, predX:465.7, predY:91.3, letX:560, letY:213.5},
  {box:[38.3,247.3,224,386.7], xd:[-2.52,5.15], yd:[0.86,4.37], titleY:244.5, actualY:410, predX:24, predY:318.5, letX:118, letY:442.5},
  {box:[255.3,245.3,447.3,388.3], xd:[-3.16,6.97], yd:[-0.91,4.49], titleY:243, actualY:410, predX:245.7, predY:318.5, letX:338.5, letY:442.5},
  {box:[480.3,247.3,668.3,387], xd:[-2.42,7.49], yd:[-2.64,3.91], titleY:244.5, actualY:410, predX:465.7, predY:318.5, letX:561, letY:442.5}
];
const pointSets = [aesTopPts, tinyRocketPts, tv80Pts, aesBotPts, bpBePts, picosocPts];
const xTickSets = [aesTopXTicks, tinyXTicks, tv80XTicks, aesBotXTicks, bpXTicks, picoXTicks];
const yTickSets = [aesTopYTicks, tinyYTicks, tv80YTicks, aesBotYTicks, bpYTicks, picoYTicks];

const svg = d3.select("#c");
svg.append("rect").attr("width",678).attr("height",447).attr("fill","#fff");
const intFmt = d => (d < 0 ? "\u2212" : "") + Math.abs(d);
const decFmt = d => d3.format(".1f")(d);

layout.forEach((L, i) => {
  const [x0,y0,x1,y1] = L.box;
  const x = d3.scaleLinear().domain(L.xd).range([x0,x1]);
  const y = d3.scaleLinear().domain(L.yd).range([y1,y0]);
  const g = svg.append("g");

  const clipId = "clip"+i;
  g.append("clipPath").attr("id",clipId).append("rect")
    .attr("x",x0).attr("y",y0).attr("width",x1-x0).attr("height",y1-y0);

  g.append("g").attr("clip-path","url(#"+clipId+")")
    .selectAll("circle").data(pointSets[i]).join("circle")
    .attr("cx", d => x(d[0])).attr("cy", d => y(d[1]))
    .attr("r", 1.95).attr("fill", "#00008b");

  const xa = g.append("g").attr("transform", `translate(0,${y1})`)
    .call(d3.axisBottom(x).tickValues(xTickSets[i]).tickFormat(intFmt).tickSize(2.5).tickPadding(1.5));
  const ya = g.append("g").attr("transform", `translate(${x0},0)`)
    .call(d3.axisLeft(y).tickValues(yTickSets[i]).tickFormat(i===3 ? decFmt : intFmt).tickSize(2.5).tickPadding(1.5));
  [xa, ya].forEach(a => {
    a.select(".domain").remove();
    a.selectAll("line").attr("stroke","#555").attr("stroke-width",0.8);
    a.selectAll("text").attr("fill","#444").style("font-family","DejaVu Sans").style("font-size","6.8px");
  });

  g.append("rect").attr("x",x0).attr("y",y0).attr("width",x1-x0).attr("height",y1-y0)
    .attr("fill","none").attr("stroke","#808080").attr("stroke-width",1);

  const cx = (x0+x1)/2;
  g.append("text").attr("x",cx).attr("y",L.titleY).attr("text-anchor","middle")
    .style("font-family","DejaVu Sans").style("font-weight","bold").style("font-size","13px")
    .attr("fill","#000").text(titles[i]);
  g.append("text").attr("x",cx).attr("y",L.actualY).attr("text-anchor","middle")
    .style("font-family","DejaVu Sans").style("font-weight","bold").style("font-size","13px")
    .attr("fill","#000").text("Actual");
  g.append("text").attr("transform",`translate(${L.predX},${L.predY}) rotate(-90)`).attr("text-anchor","middle")
    .style("font-family","DejaVu Sans").style("font-weight","bold").style("font-size","13px")
    .attr("fill","#000").text("Predicted");
  svg.append("text").attr("x",L.letX).attr("y",L.letY).attr("text-anchor","middle")
    .style("font-family","Liberation Serif").style("font-size","19px")
    .attr("fill","#000").text(letters[i]);
});
</script>
</body></html>
